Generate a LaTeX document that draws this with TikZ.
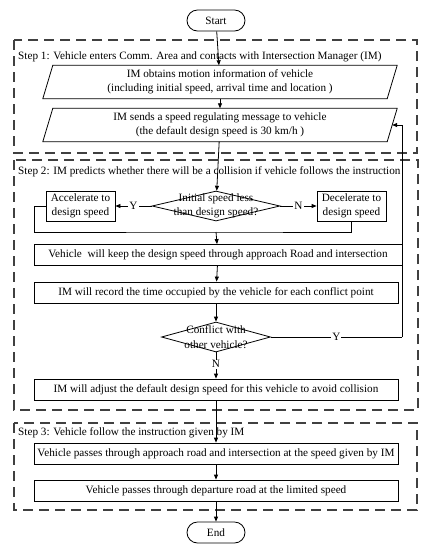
\documentclass[tikz,border=0pt]{standalone}
\usepackage{fontspec}
\setmainfont{Liberation Serif}
\usetikzlibrary{shapes.geometric,shapes.misc,arrows.meta,calc}
\begin{document}
\begin{tikzpicture}[x=1pt,y=-1pt,
  every node/.style={font=\fontsize{11.2}{14.5}\selectfont, inner sep=0pt},
  arr/.style={-{Triangle[length=5pt,width=4pt]}, line width=0.8pt},
  ln/.style={line width=0.8pt},
  terminal/.style={rounded rectangle, draw, line width=0.8pt, minimum width=58pt, minimum height=21pt},
  procbox/.style={rectangle, draw, line width=0.8pt, minimum height=21pt},
  smallbox/.style={rectangle, draw, line width=0.8pt, minimum width=69pt, minimum height=30pt, align=center},
  iobox/.style={rectangle, minimum width=344pt, minimum height=33pt, align=center},
  decision/.style={diamond, draw, line width=0.8pt},
  stepframe/.style={draw=black!75, line width=1.2pt, dash pattern=on 10pt off 6pt},
  steplabel/.style={anchor=west},
  yn/.style={fill=white, inner sep=1pt}
]
\useasboundingbox (0,0) rectangle (430,550);

% step frames
\draw[stepframe] (14,40) rectangle (417,153);
\draw[stepframe] (14,160) rectangle (418,410);
\draw[stepframe] (14,423) rectangle (417,510);
\node[steplabel] (s1) at (18,57) {Step 1: Vehicle enters Comm. Area and contacts with Intersection Manager (IM)};
\node[steplabel] (s2) at (18,172) {Step 2: IM predicts whether there will be a collision if vehicle follows the instruction};
\node[steplabel] (s3) at (18,433) {Step 3: Vehicle follow the instruction given by IM};

% nodes
\node[terminal] (start) at (216,20.5) {Start};
\node[iobox] (p1) at (220,82) {IM obtains motion information of vehicle\\(including initial speed, arrival time and location )};
\node[iobox] (p2) at (220,125) {IM sends a speed regulating message to vehicle\\(the default design speed is 30 km/h )};
\foreach \p in {p1,p2}{
  \draw[ln] ($(\p.north west)+(5,0)$) -- ($(\p.north east)+(5,0)$) -- ($(\p.south east)+(-5,0)$) -- ($(\p.south west)+(-5,0)$) -- cycle;
}
\node[decision, minimum width=128pt, minimum height=30pt] (d1) at (216,206) {};
\node[align=center] (d1t) at (d1) {Initial speed less\\than design speed?};
\node[smallbox] (acc) at (80.5,206) {Accelerate to\\design speed};
\node[smallbox] (dec) at (351.5,206) {Decelerate to\\design speed};
\node[procbox, minimum width=368pt] (keep) at (218,255) {Vehicle\ \ will keep the design speed through approach Road and intersection};
\node[procbox, minimum width=364pt] (rec) at (216,292.5) {IM will record the time occupied by the vehicle for each conflict point};
\node[decision, minimum width=109pt, minimum height=30pt] (d2) at (216,337) {};
\node[align=center] (d2t) at (d2) {Conflict with\\other vehicle?};
\node[procbox, minimum width=364pt] (adj) at (216,389.5) {IM will adjust the default design speed for this vehicle to avoid collision};
\node[procbox, minimum width=364pt] (app) at (216,453.5) {Vehicle passes through approach road and intersection at the speed given by IM};
\node[procbox, minimum width=364pt] (dep) at (216,490.5) {Vehicle passes through departure road at the limited speed};
\node[terminal] (end) at (216,532.5) {End};

\coordinate (m) at (216,232);
\coordinate (fb) at (402,125);

% connectors
\draw[arr] (start) -- (p1);
\draw[arr] (p1) -- (p2);
\draw[arr] (p2) -- (d1);
\draw[arr] (d1.west) -- node[yn]{Y} (acc.east);
\draw[arr] (d1.east) -- node[yn]{N} (dec.west);
\draw[ln] (acc.west) -- (34,206) |- (m) -| (dec.south);
\draw[arr] (m) -- (keep);
\draw[arr] (keep) -- (rec);
\draw[arr] (rec) -- (d2);
\draw[ln] (d2.east) -- node[yn, pos=0.5]{Y} (d2.east -| fb);
\draw[arr] (d2.east -| fb) -- (fb) -- (p2.east);
\draw[arr] (d2.south) -- node[yn, pos=0.45]{N} (adj.north);
\draw[arr] (adj) -- (app);
\draw[arr] (app) -- (dep);
\draw[arr] (dep) -- (end);
\end{tikzpicture}
\end{document}
